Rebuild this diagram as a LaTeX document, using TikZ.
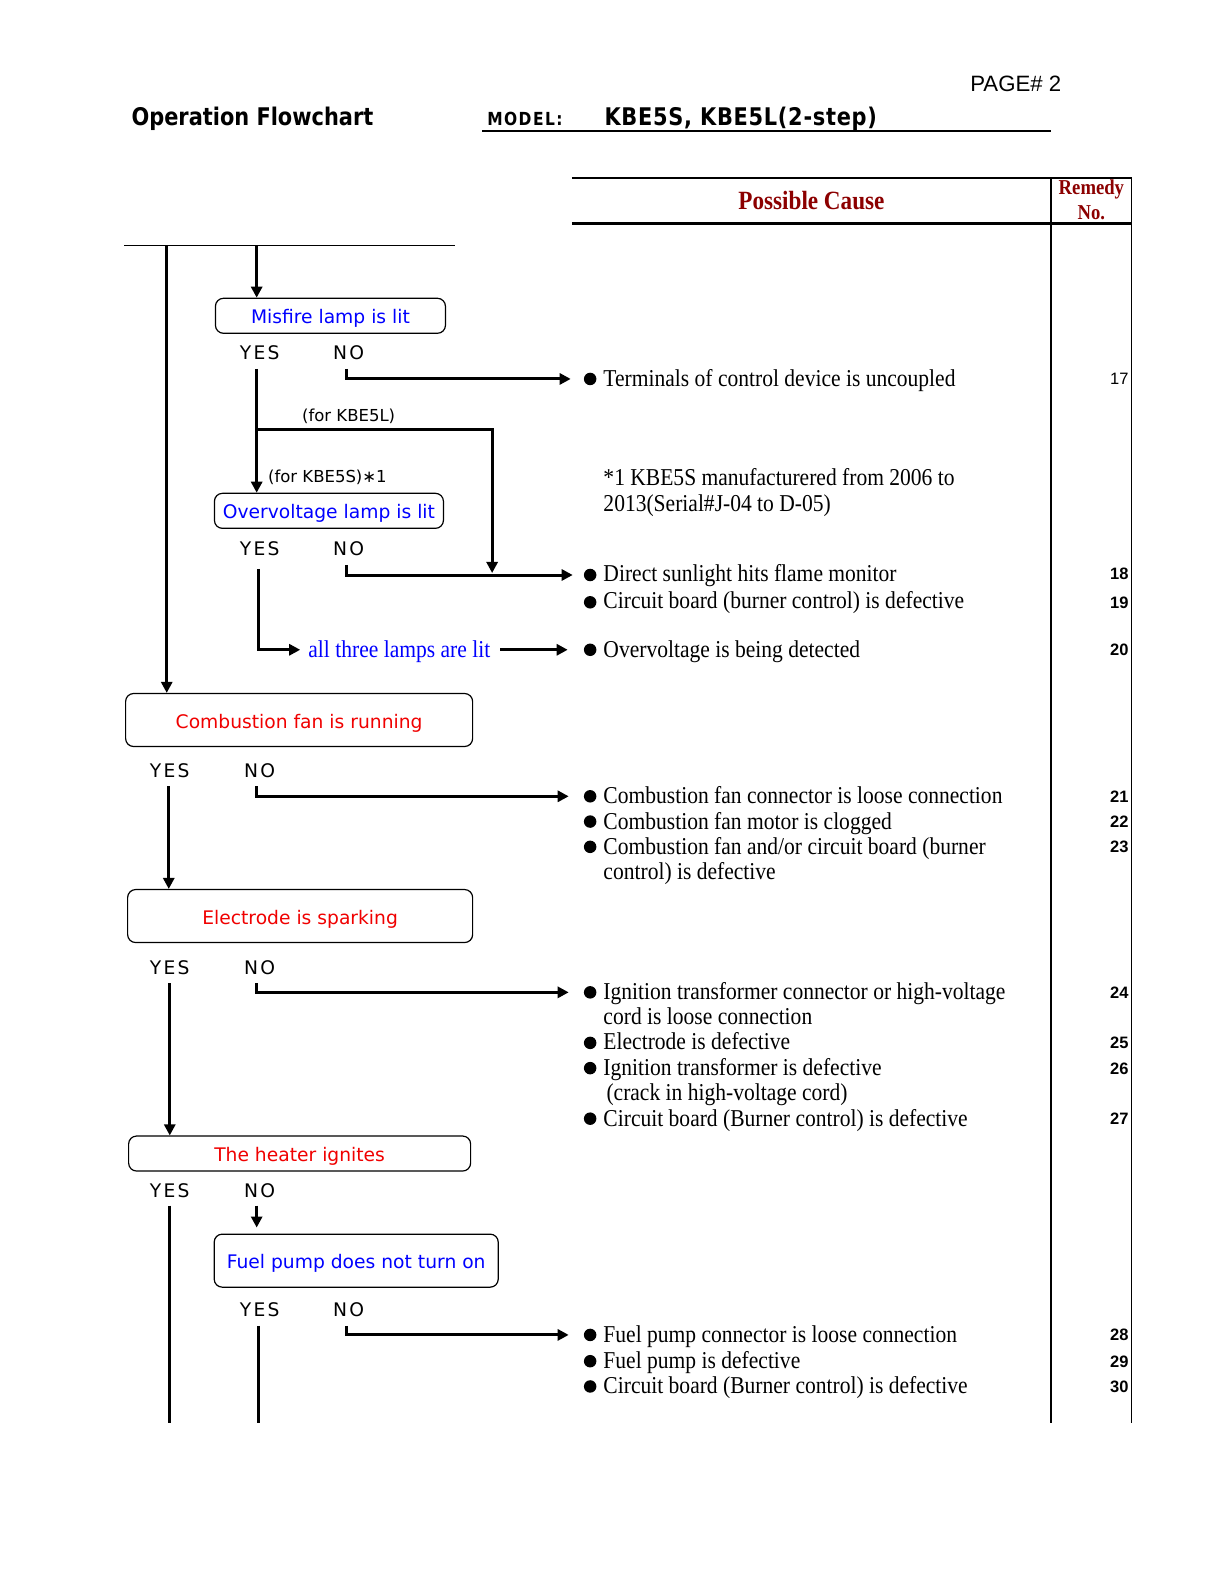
\documentclass[tikz,border=0pt]{standalone}
\usepackage{fontspec}
\usetikzlibrary{arrows.meta}
\setmainfont{Liberation Serif}
\newfontfamily\dv{DejaVu Sans}
\newfontfamily\dvyn[LetterSpace=12]{DejaVu Sans}
\newfontfamily\hdr[FakeStretch=0.86]{DejaVu Sans Bold}
\newfontfamily\hdrs[FakeStretch=0.86,LetterSpace=8]{DejaVu Sans Bold}
\newfontfamily\hdrm[FakeStretch=0.86,LetterSpace=3]{DejaVu Sans Bold}
\newfontfamily\srf[FakeStretch=0.89]{Liberation Serif}
\newfontfamily\srfb[FakeStretch=0.88]{Liberation Serif Bold}
\newfontfamily\ars{Liberation Sans}
\newfontfamily\arsb{Liberation Sans Bold}
\definecolor{fcblue}{RGB}{0,0,255}
\definecolor{fcred}{RGB}{240,0,0}
\definecolor{fcdark}{RGB}{140,0,0}
\begin{document}
\begin{tikzpicture}[x=1.0105pt,y=-1.0105pt,
  fbox/.style={draw, line width=1.2pt, rounded corners=8pt, inner sep=0pt,
    font=\dv\fontsize{18.7}{20}\selectfont, text height=20pt, text depth=4pt},
  bluebox/.style={fbox, text=fcblue},
  redbox/.style={fbox, text=fcred},
  yn/.style={inner sep=0pt, font=\dvyn\fontsize{18.7}{20}\selectfont, text height=14pt, text depth=0pt},
  arr/.style={line width=3pt, -{Triangle[length=11pt,width=11pt]}},
  plain/.style={line width=3pt},
  cause/.style={anchor=west, inner sep=0pt, font=\srf\fontsize{24.2}{25}\selectfont, text height=20pt, text depth=5pt},
  num/.style={anchor=east, inner sep=0pt, font=\arsb\fontsize{16.5}{18}\selectfont, text height=12pt, text depth=0pt},
  bul/.style={circle, fill=black, inner sep=0pt, minimum size=12.5pt},
  note/.style={inner sep=0pt, font=\dv\fontsize{16.5}{18}\selectfont},
  tline/.style={line width=1.3pt}
]
\useasboundingbox (0,0) rectangle (1207.3,1566.5);
\fill[white] (0,0) rectangle (1207.3,1566.5);

% ---------- header ----------
\node[anchor=west, inner sep=0pt, font=\ars\fontsize{22.2}{24}\selectfont] (page) at (960,83) {PAGE\# 2};
\node[anchor=west, inner sep=0pt, font=\hdr\fontsize{24.3}{26}\selectfont] (title) at (130,118) {Operation Flowchart};
\node[anchor=west, inner sep=0pt, font=\hdrs\fontsize{18}{19}\selectfont] (modellbl) at (482,118) {MODEL:};
\node[anchor=west, inner sep=0pt, font=\hdrm\fontsize{24.3}{26}\selectfont] (model) at (598,118) {KBE5S, KBE5L(2-step)};
\coordinate (ul1) at (477,130);
\coordinate (ul2) at (1040,130);
\draw[line width=2pt] (ul1) -- (ul2);

% ---------- table ----------
\coordinate (t1) at (566,176);
\coordinate (t2) at (1120,176);
\coordinate (h1) at (566,221);
\coordinate (h2) at (1120,221);
\coordinate (v1a) at (1040,176);
\coordinate (v1b) at (1040,1408);
\coordinate (v2a) at (1120,176);
\coordinate (v2b) at (1120,1408);
\draw[tline] (t1) -- (t2);
\draw[line width=2.5pt] (h1) -- (h2);
\draw[tline] (v1a) -- (v1b);
\draw[tline] (v2a) -- (v2b);
\node[inner sep=0pt, text=fcdark, font=\srfb\fontsize{26.3}{28}\selectfont] (pc) at (803,198) {Possible Cause};
\node[inner sep=0pt, text=fcdark, font=\srfb\fontsize{21.2}{22}\selectfont] (rem) at (1080,187) {Remedy};
\node[inner sep=0pt, text=fcdark, font=\srfb\fontsize{21.2}{22}\selectfont] (remno) at (1080,210) {No.};

% ---------- flow boxes ----------
\node[bluebox, minimum width=230pt, minimum height=35pt] (misfire) at (327,312.5) {Misfire lamp is lit};
\node[bluebox, minimum width=229pt, minimum height=35pt] (over) at (325.5,505.5) {Overvoltage lamp is lit};
\node[redbox, minimum width=347pt, minimum height=53pt] (comb) at (296,712.5) {Combustion fan is running};
\node[redbox, minimum width=345pt, minimum height=53pt] (elec) at (297,906.5) {Electrode is sparking};
\node[redbox, minimum width=342pt, minimum height=35pt] (heat) at (296.5,1141.5) {The heater ignites};
\node[bluebox, minimum width=284pt, minimum height=53pt] (fuel) at (352.5,1247.5) {Fuel pump does not turn on};

% YES / NO labels
\node[yn] (yes1) at (257,349) {YES};  \node[yn] (no1) at (345,349) {NO};
\node[yn] (yes2) at (257,543) {YES};  \node[yn] (no2) at (345,543) {NO};
\node[yn] (yes3) at (168,762) {YES};  \node[yn] (no3) at (257,762) {NO};
\node[yn] (yes4) at (168,957) {YES};  \node[yn] (no4) at (257,957) {NO};
\node[yn] (yes5) at (168,1178) {YES}; \node[yn] (no5) at (257,1178) {NO};
\node[yn] (yes6) at (257,1296) {YES}; \node[yn] (no6) at (345,1296) {NO};

\node[note] (forL) at (345,412) {(for KBE5L)};
\node[note] (forS) at (324,472) {(for KBE5S)∗1};
\node[anchor=west, inner sep=0pt, text=fcblue, font=\srf\fontsize{24.2}{25}\selectfont, text height=20pt, text depth=5pt] (all3) at (305,643) {all three lamps are lit};

% ---------- bullets ----------
\node[bul] (b17) at (584,375) {};
\node[bul] (b18) at (584,569) {};
\node[bul] (b19) at (584,596) {};
\node[bul] (b20) at (584,643) {};
\node[bul] (b21) at (584,788) {};
\node[bul] (b22) at (584,813) {};
\node[bul] (b23) at (584,838) {};
\node[bul] (b24) at (584,982) {};
\node[bul] (b25) at (584,1032) {};
\node[bul] (b26) at (584,1057) {};
\node[bul] (b27) at (584,1107) {};
\node[bul] (b28) at (584,1321) {};
\node[bul] (b29) at (584,1347) {};
\node[bul] (b30) at (584,1372) {};

% ---------- causes ----------
\node[cause] (c17) at (597,375) {Terminals of control device is uncoupled};
\node[cause] (fn1) at (597,473) {*1 KBE5S manufacturered from 2006 to};
\node[cause] (fn2) at (597,499) {2013(Serial\#J-04 to D-05)};
\node[cause] (c18) at (597,568) {Direct sunlight hits flame monitor};
\node[cause] (c19) at (597,595) {Circuit board (burner control) is defective};
\node[cause] (c20) at (597,643) {Overvoltage is being detected};
\node[cause] (c21) at (597,788) {Combustion fan connector is loose connection};
\node[cause] (c22) at (597,813) {Combustion fan motor is clogged};
\node[cause] (c23) at (597,838) {Combustion fan and/or circuit board (burner};
\node[cause] (c23b) at (597,863) {control) is defective};
\node[cause] (c24) at (597,982) {Ignition transformer connector or high-voltage};
\node[cause] (c24b) at (597,1006) {cord is loose connection};
\node[cause] (c25) at (597,1031) {Electrode is defective};
\node[cause] (c26) at (597,1057) {Ignition transformer is defective};
\node[cause] (c26b) at (600,1082) {(crack in high-voltage cord)};
\node[cause] (c27) at (597,1107) {Circuit board (Burner control) is defective};
\node[cause] (c28) at (597,1321) {Fuel pump connector is loose connection};
\node[cause] (c29) at (597,1347) {Fuel pump is defective};
\node[cause] (c30) at (597,1372) {Circuit board (Burner control) is defective};

% ---------- remedy numbers ----------
\node[num, font=\ars\fontsize{16.5}{18}\selectfont] (n17) at (1117,375) {17};
\node[num] (n18) at (1117,568) {18};
\node[num] (n19) at (1117,596) {19};
\node[num] (n20) at (1117,643) {20};
\node[num] (n21) at (1117,788) {21};
\node[num] (n22) at (1117,813) {22};
\node[num] (n23) at (1117,838) {23};
\node[num] (n24) at (1117,982) {24};
\node[num] (n25) at (1117,1032) {25};
\node[num] (n26) at (1117,1057) {26};
\node[num] (n27) at (1117,1107) {27};
\node[num] (n28) at (1117,1321) {28};
\node[num] (n29) at (1117,1347) {29};
\node[num] (n30) at (1117,1372) {30};

% ---------- connectors ----------
\coordinate (topl) at (123,243);
\coordinate (topr) at (450,243);
\draw[line width=1.5pt] (topl) -- (topr);
\coordinate (m1) at (165,243);
\coordinate (m2) at (254,243);
\draw[arr] (m1) -- (m1 |- comb.north);
\draw[arr] (m2) -- (m2 |- misfire.north);

\coordinate (y1) at (254,365);
\draw[arr] (y1) -- (y1 |- over.north);
\coordinate (br) at (254,425);
\coordinate (brc) at (487,425);
\coordinate (j1) at (487,569);
\draw[arr, shorten >=2pt] (br) -- (brc) -- (j1);

\coordinate (nn1) at (343,365);
\draw[arr, shorten >=13pt] (nn1) |- (b17);
\coordinate (nn2) at (343,559);
\draw[arr, shorten >=11pt] (nn2) |- (b18);
\coordinate (yy2) at (256,563);
\draw[arr, shorten >=8pt] (yy2) |- (all3.west);
\coordinate (a3e) at (495,643);
\draw[arr, shorten >=16pt] (a3e) -- (b20);

\coordinate (nn3) at (254,778);
\draw[arr, shorten >=15pt] (nn3) |- (b21);
\coordinate (yy3) at (167,778);
\draw[arr] (yy3) -- (yy3 |- elec.north);

\coordinate (nn4) at (254,973);
\draw[arr, shorten >=15pt] (nn4) |- (b24);
\coordinate (yy4) at (168,973);
\draw[arr] (yy4) -- (yy4 |- heat.north);

\coordinate (yy5) at (168,1193);
\coordinate (yy5e) at (168,1408);
\draw[plain] (yy5) -- (yy5e);
\coordinate (nn5) at (254,1193);
\draw[arr, shorten >=6pt] (nn5) -- (nn5 |- fuel.north);

\coordinate (nn6) at (343,1312);
\draw[arr, shorten >=15pt] (nn6) |- (b28);
\coordinate (yy6) at (256,1312);
\coordinate (yy6e) at (256,1408);
\draw[plain] (yy6) -- (yy6e);
\end{tikzpicture}
\end{document}
